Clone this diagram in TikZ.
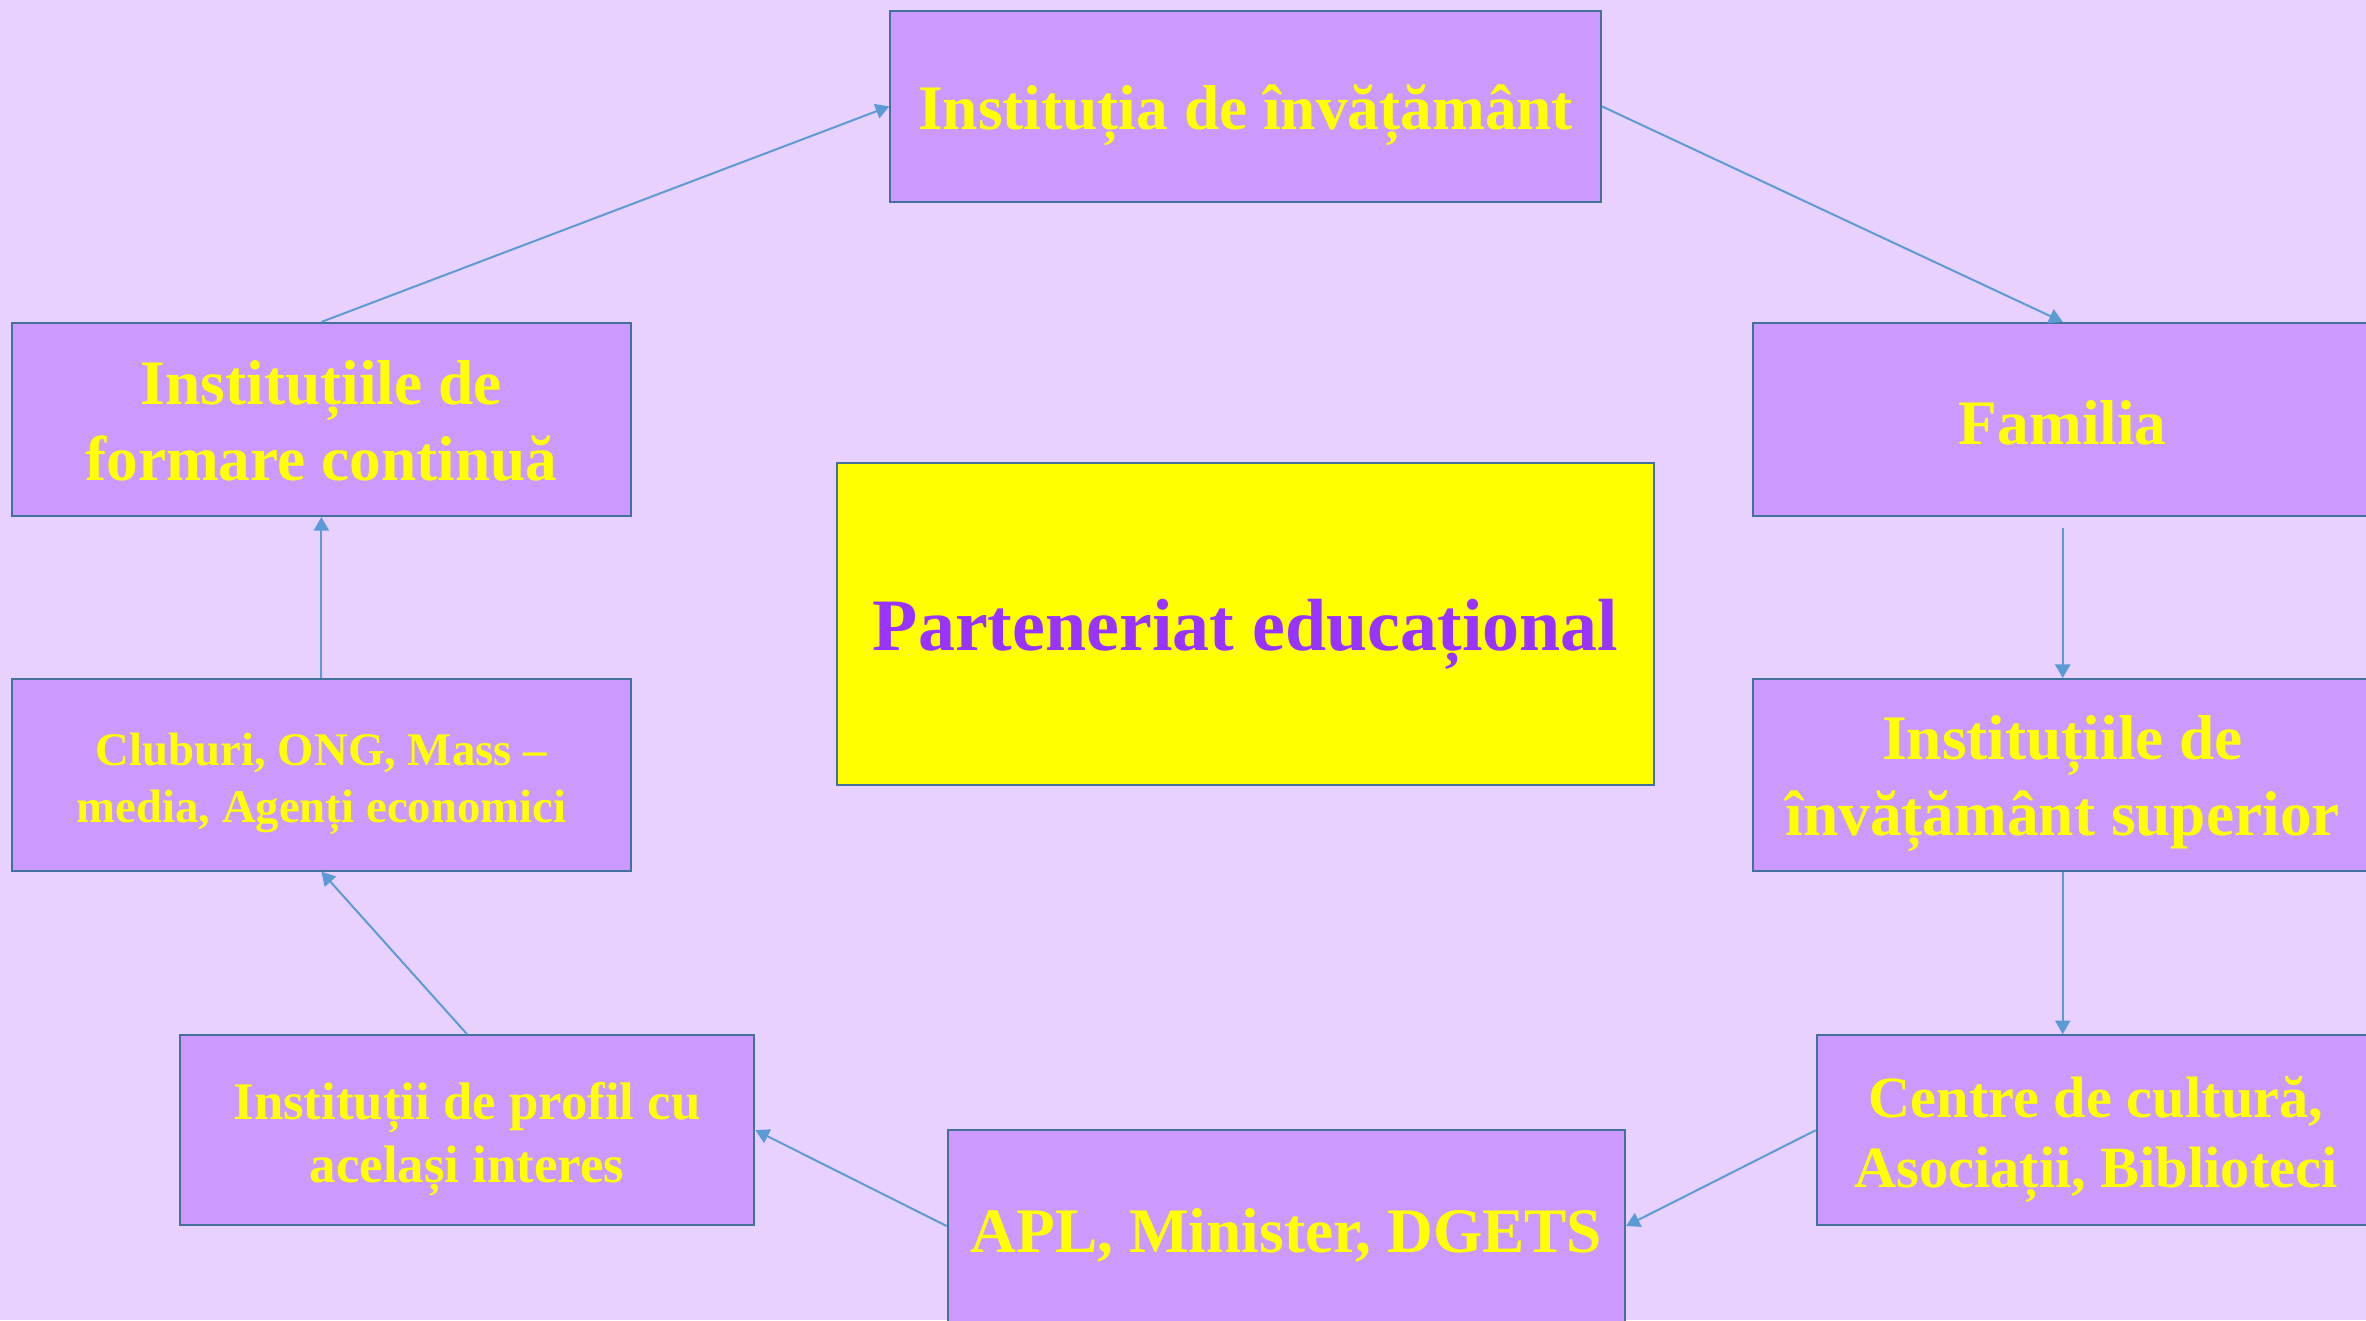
\documentclass[tikz,border=0pt]{standalone}
\usepackage{fontspec}
\setmainfont{Liberation Serif}
\usetikzlibrary{arrows.meta}
\definecolor{bgc}{RGB}{232,208,255}
\definecolor{boxfill}{RGB}{204,153,255}
\definecolor{boxline}{RGB}{65,113,156}
\definecolor{arrc}{RGB}{91,155,213}
\definecolor{txty}{RGB}{255,255,0}
\definecolor{txtp}{RGB}{153,51,255}
\definecolor{cfill}{RGB}{255,255,0}
\tikzset{
  pbox/.style={draw=boxline, line width=1.3pt, fill=boxfill, inner sep=0pt},
  cbox/.style={draw=boxline, line width=1.3pt, fill=cfill, inner sep=0pt},
  conn/.style={draw=arrc, line width=1.3pt, -{Triangle[length=9pt,width=10pt]}},
  ty/.style={text=txty, align=center, yshift=-6pt, inner sep=0pt},
  tp/.style={text=txtp, align=center, yshift=-7pt, inner sep=0pt},
  fa/.style={font=\bfseries\fontsize{42}{50.4}\selectfont},
  fb/.style={font=\bfseries\fontsize{38.7}{46.4}\selectfont},
  fc/.style={font=\bfseries\fontsize{35}{42}\selectfont},
  fd/.style={font=\bfseries\fontsize{31}{38}\selectfont},
  fe/.style={font=\bfseries\fontsize{49}{58.8}\selectfont},
}
\begin{document}
\begin{tikzpicture}[x=1pt,y=-1pt]
\useasboundingbox (0,0) rectangle (1568,875);
\fill[bgc] (0,0) rectangle (1568,875);
\clip (0,0) rectangle (1568,875);
\node[pbox, minimum width=471pt, minimum height=127pt, label={[ty,fa]center:Instituția de învățământ}] (top) at (825.5,70.5) {};
\node[pbox, minimum width=410pt, minimum height=128pt, label={[ty,fa,yshift=4pt]center:Familia}] (fam) at (1367,278) {};
\node[pbox, minimum width=410pt, minimum height=127pt, label={[ty,fa]center:Instituțiile de\\ învățământ superior}] (sup) at (1367,513.5) {};
\node[pbox, minimum width=370pt, minimum height=126pt, label={[ty,fb]center:Centre de cultură,\\ Asociații, Biblioteci}] (cent) at (1389,749) {};
\node[pbox, minimum width=449pt, minimum height=127pt, label={[ty,fa]center:APL, Minister, DGETS}] (apl) at (852.5,812.5) {};
\node[pbox, minimum width=381pt, minimum height=126pt, label={[ty,fc]center:Instituții de profil cu\\ același interes}] (prof) at (309.5,749) {};
\node[pbox, minimum width=410pt, minimum height=127pt, label={[ty,fd]center:Cluburi, ONG, Mass –\\ media, Agenți economici}] (club) at (213,513.5) {};
\node[pbox, minimum width=410pt, minimum height=128pt, label={[ty,fa,yshift=5pt]center:Instituțiile de\\ formare continuă}] (form) at (213,278) {};
\node[cbox, minimum width=541pt, minimum height=213pt, label={[tp,fe]center:Parteneriat educațional}] (ctr) at (825.5,413.5) {};
\draw[conn] (form.north) -- (top.west);
\draw[conn] (top.east) -- (fam.north);
\draw[conn, shorten <=7pt] (fam.south) -- (sup.north);
\draw[conn] (sup.south) -- (sup.south |- cent.north);
\draw[conn] (cent.west) -- (apl.east);
\draw[conn] (apl.west) -- (prof.east);
\draw[conn] (prof.north) -- (club.south);
\draw[conn] (club.north) -- (form.south);
\end{tikzpicture}
\end{document}
